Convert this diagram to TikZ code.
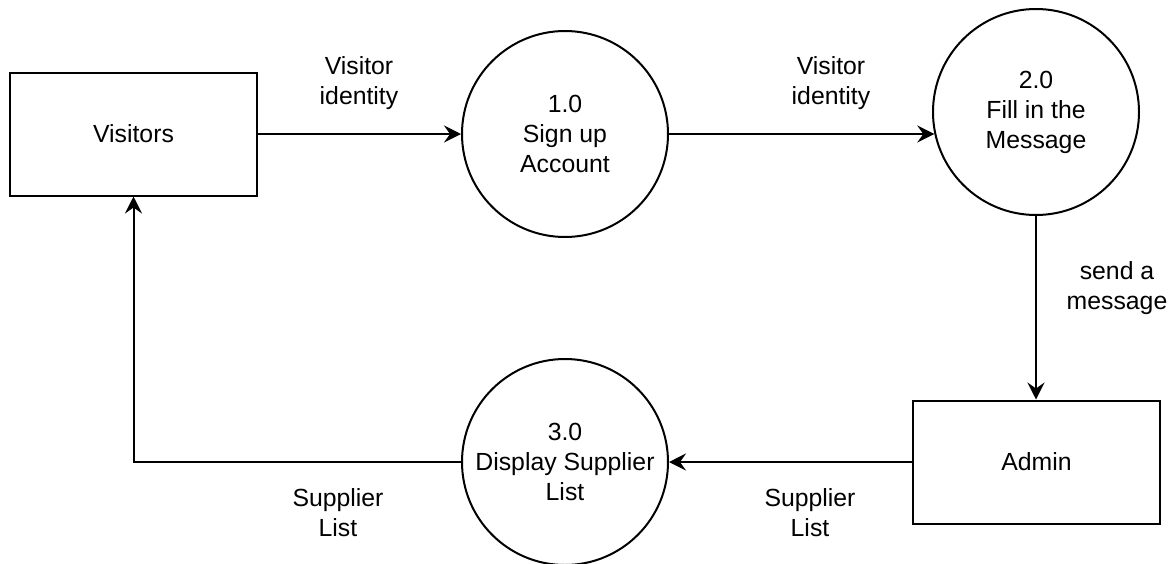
\documentclass[tikz,border=0pt]{standalone}
\usepackage{fontspec}
\setmainfont{Liberation Sans}
\usetikzlibrary{arrows.meta,calc}

\begin{document}
\begin{tikzpicture}[x=0.5pt,y=-0.5pt,
  every node/.style={font=\fontsize{12.4pt}{15pt}\selectfont, align=center},
  entity/.style={draw, line width=1pt, minimum width=123.5pt, minimum height=61.5pt, inner sep=0pt},
  process/.style={draw, circle, line width=1pt, minimum size=103pt, inner sep=0pt},
  flow/.style={line width=1pt, -{Stealth[length=8.5pt,width=8.5pt,inset=3pt]}},
  flowlabel/.style={inner sep=0pt}]

  \useasboundingbox (0,0) rectangle (1174,563);

  % external entities
  \node[entity] (visitors) at (133.5,134) {Visitors};
  \node[entity] (admin)    at (1036.5,462) {Admin};

  % processes
  \node[process] (signup)  at (565,134) {1.0\\Sign up\\Account};
  \node[process] (fill)    at (1036,112) {2.0\\Fill in the\\Message};
  \node[process] (display) at (565,462) {3.0\\Display Supplier\\List};

  % data flows
  \draw[flow] (visitors.east |- signup.west) -- (signup.west);
  \draw[flow] (signup.east) -- (signup.east -| fill.192.33);
  \draw[flow] (fill.south) -- (fill.south |- admin.north);
  \draw[flow] (admin.west) -- (admin.west -| display.east);
  \draw[flow] (display.west) -| (visitors.south);

  % flow labels
  \node[flowlabel] (l1) at (359,83)  {Visitor\\identity};
  \node[flowlabel] (l2) at (831,83)  {Visitor\\identity};
  \node[flowlabel] (l3) at (1117,288) {send a\\message};
  \node[flowlabel] (l4) at (810,513) {Supplier\\List};
  \node[flowlabel] (l5) at (338,513) {Supplier\\List};
\end{tikzpicture}
\end{document}
